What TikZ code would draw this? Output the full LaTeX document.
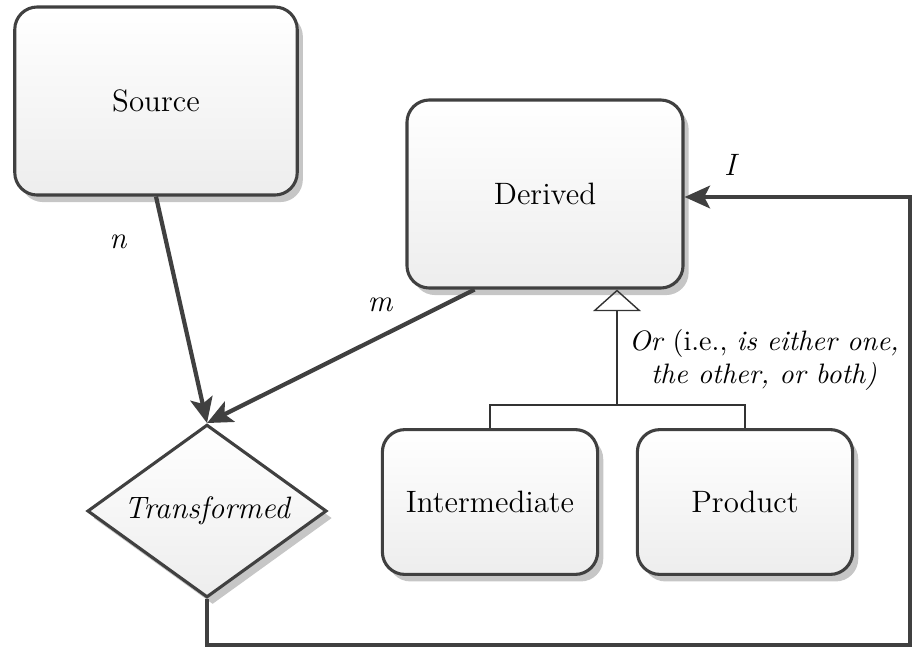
\documentclass[tikz,border=0pt]{standalone}
\usepackage{tikz}
\usetikzlibrary{shapes.geometric,shadows,arrows.meta}

\tikzset{
  entity/.style={draw=black!75, line width=1.1pt, rounded corners=8pt,
    top color=white, bottom color=gray!14,
    drop shadow={shadow xshift=2pt, shadow yshift=-2.5pt, opacity=.45},
    align=center, inner sep=0pt, font=\fontsize{11}{13}\selectfont},
  decision/.style={diamond, draw=black!75, line width=1.1pt,
    top color=white, bottom color=gray!14, aspect=1.38,
    drop shadow={shadow xshift=2pt, shadow yshift=-2.5pt, opacity=.45},
    inner sep=0pt, minimum width=2.99cm, minimum height=2.16cm,
    font=\fontsize{11}{13}\selectfont\itshape},
  link/.style={draw=black!75, line width=1.5pt, -{Stealth[length=9pt,width=8pt,inset=2pt]}},
  isa/.style={draw=black!80, line width=.5pt},
  card/.style={font=\fontsize{11}{13}\selectfont\itshape}
}

\begin{document}
\begin{tikzpicture}[x=0.0125cm, y=-0.0125cm]
        \useasboundingbox (0,0) rectangle (914,649);

        % entities
        \node[entity, minimum width=3.53cm, minimum height=2.35cm] (source) at (156,101) {Source};
        \node[entity, minimum width=3.45cm, minimum height=2.35cm] (derived) at (545,194) {Derived};
        \node[entity, minimum width=2.69cm, minimum height=1.81cm] (inter) at (490,502) {Intermediate};
        \node[entity, minimum width=2.69cm, minimum height=1.81cm] (product) at (745,502) {Product};
        \node[decision] (trans) at (207,511) {Transformed};

        % corners of the loop back
        \coordinate (loopsw) at (207,645);
        \coordinate (loopse) at (910,645);
        \coordinate (loopne) at (910,197);
        \coordinate (fork) at (617,405);

        % relationships
        \draw[link] (source.south) -- (trans.north);
        \draw[link] ([xshift=-0.88cm]derived.south) -- (trans.north);
        \draw[link] (trans.south) -- (loopsw) -- (loopse) -- (loopne) -- (derived.east |- loopne);

        % subtypes
        \draw[isa] (inter.north) |- (fork) -| (product.north);
        \draw[isa, -{Triangle[open, length=0.27cm, width=0.6cm]}] (fork) -- (fork |- derived.south);

        % labels
        \node[card] (nlab) at (118,242) {n};
        \node[card] (mlab) at (380,305) {m};
        \node[card] (ilab) at (730,165) {I};
        \node[align=center] (orlab) at (764,360) {\itshape Or \upshape (i.e., \itshape is either one,\\ \itshape the other, or both)};
\end{tikzpicture}
\end{document}
